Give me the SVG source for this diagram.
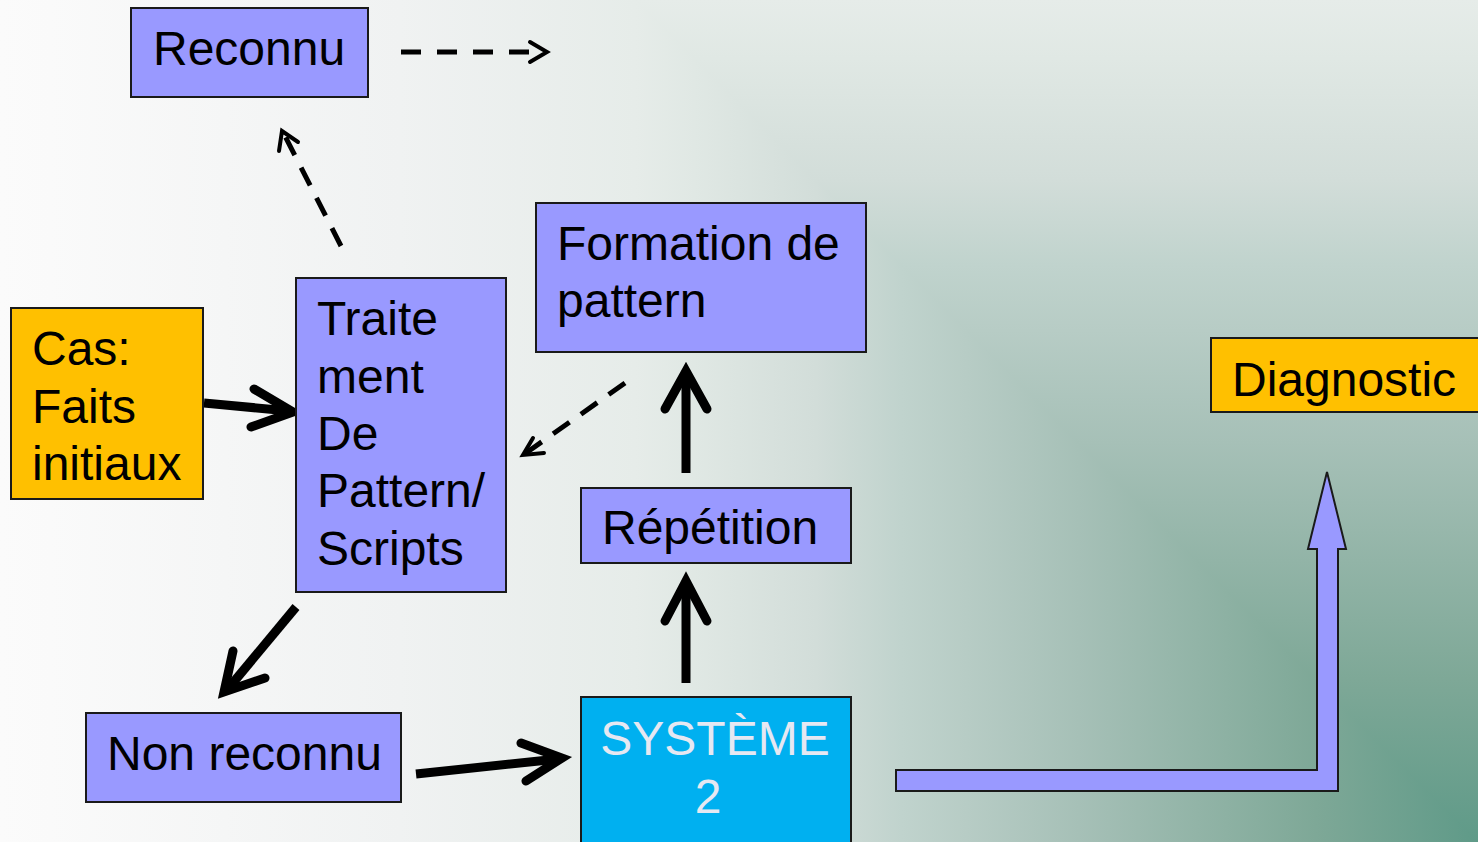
<svg xmlns="http://www.w3.org/2000/svg" width="1478" height="842" viewBox="0 0 1478 842">
<defs>
<linearGradient id="bgh" gradientUnits="userSpaceOnUse" x1="1478" y1="0" x2="0" y2="0">
<stop offset="0" stop-color="#5f9a88"/>
<stop offset="0.11" stop-color="#7ea897"/>
<stop offset="0.27" stop-color="#a6c0b7"/>
<stop offset="0.346" stop-color="#b7ccc5"/>
<stop offset="0.39" stop-color="#c0d3cd"/>
<stop offset="0.448" stop-color="#d2ddd9"/>
<stop offset="0.53" stop-color="#e0e8e4"/>
<stop offset="0.57" stop-color="#e6ece9"/>
<stop offset="0.73" stop-color="#f0f2f2"/>
<stop offset="0.966" stop-color="#fafafa"/>
<stop offset="1" stop-color="#fbfbfb"/>
</linearGradient>
<linearGradient id="bgv" href="#bgh" gradientUnits="userSpaceOnUse" x1="0" y1="842" x2="0" y2="-636"/>
<style>
.box{stroke:#1a1a1a;stroke-width:2}
.purple{fill:#9999ff}
.orange{fill:#ffc000}
.blue{fill:#00b0f0}
.t{font-family:"Liberation Sans",Arial,sans-serif;font-size:48px;fill:#000}
.tw{font-family:"Liberation Sans",Arial,sans-serif;font-size:48px;fill:#e6e8f2}
.thick{fill:none;stroke:#000;stroke-width:9}
.thickhead{fill:none;stroke:#000;stroke-width:9;stroke-linecap:round;stroke-linejoin:miter}
.dash{fill:none;stroke:#000;stroke-width:5;stroke-dasharray:20 16}
.dashd{fill:none;stroke:#000;stroke-width:5;stroke-dasharray:20 14}
.dhead{fill:none;stroke:#000;stroke-width:4;stroke-linecap:round}
.block{fill:#9999ff;stroke:#1a1a1a;stroke-width:2}
</style>
</defs>
<rect width="1478" height="842" fill="url(#bgh)"/>
<polygon points="636,0 1478,842 1478,0" fill="url(#bgv)"/>

<g id="connectors">
<line class="dash" x1="401" y1="52" x2="544" y2="52"/>
<polyline class="dhead" points="530,42 547,52 530,62"/>
<line class="dashd" x1="341" y1="246" x2="284" y2="134"/>
<polyline class="dhead" points="279,151 282,131 298,142"/>
<line class="dashd" x1="625" y1="383" x2="526" y2="453"/>
<polyline class="dhead" points="533,438 523,455 544,453"/>
<line class="thick" x1="204" y1="403" x2="289" y2="411"/>
<polyline class="thickhead" points="254,389 293,412 251,427"/>
<line class="thick" x1="296" y1="607" x2="227" y2="690"/>
<polyline class="thickhead" points="233,651 224,692 265,678"/>
<line class="thick" x1="686" y1="473" x2="686" y2="375"/>
<polyline class="thickhead" points="665,409 686,371 707,409"/>
<line class="thick" x1="686" y1="683" x2="686" y2="585"/>
<polyline class="thickhead" points="665,621 686,581 707,621"/>
<line class="thick" x1="416" y1="774" x2="558" y2="759"/>
<polyline class="thickhead" points="521,743 562,758 526,781"/>
<path class="block" d="M896,770 L1317,770 L1317,549 L1308,549 L1327,472 L1346,549 L1338,549 L1338,791 L896,791 Z"/>
</g>

<g id="reconnu">
<rect class="box purple" x="131" y="8" width="237" height="89"/>
<text class="t" x="153" y="65">Reconnu</text>
</g>

<g id="formation">
<rect class="box purple" x="536" y="203" width="330" height="149"/>
<text class="t" x="557" y="260">Formation de</text>
<text class="t" x="557" y="317">pattern</text>
</g>

<g id="cas">
<rect class="box orange" x="11" y="308" width="192" height="191"/>
<text class="t" x="32" y="365">Cas:</text>
<text class="t" x="32" y="423">Faits</text>
<text class="t" x="32" y="480">initiaux</text>
</g>

<g id="traitement">
<rect class="box purple" x="296" y="278" width="210" height="314"/>
<text class="t" x="317" y="335">Traite</text>
<text class="t" x="317" y="393">ment</text>
<text class="t" x="317" y="450">De</text>
<text class="t" x="317" y="507">Pattern/</text>
<text class="t" x="317" y="565">Scripts</text>
</g>

<g id="repetition">
<rect class="box purple" x="581" y="488" width="270" height="75"/>
<text class="t" x="602" y="544">Répétition</text>
</g>

<g id="systeme">
<rect class="box blue" x="581" y="697" width="270" height="150"/>
<text class="tw" x="715" y="755" text-anchor="middle">SYSTÈME</text>
<text class="tw" x="708" y="813" text-anchor="middle">2</text>
</g>

<g id="nonreconnu">
<rect class="box purple" x="86" y="713" width="315" height="89"/>
<text class="t" x="107" y="770">Non reconnu</text>
</g>

<g id="diagnostic">
<rect class="box orange" x="1211" y="338" width="270" height="74"/>
<text class="t" x="1232" y="396">Diagnostic</text>
</g>
</svg>
